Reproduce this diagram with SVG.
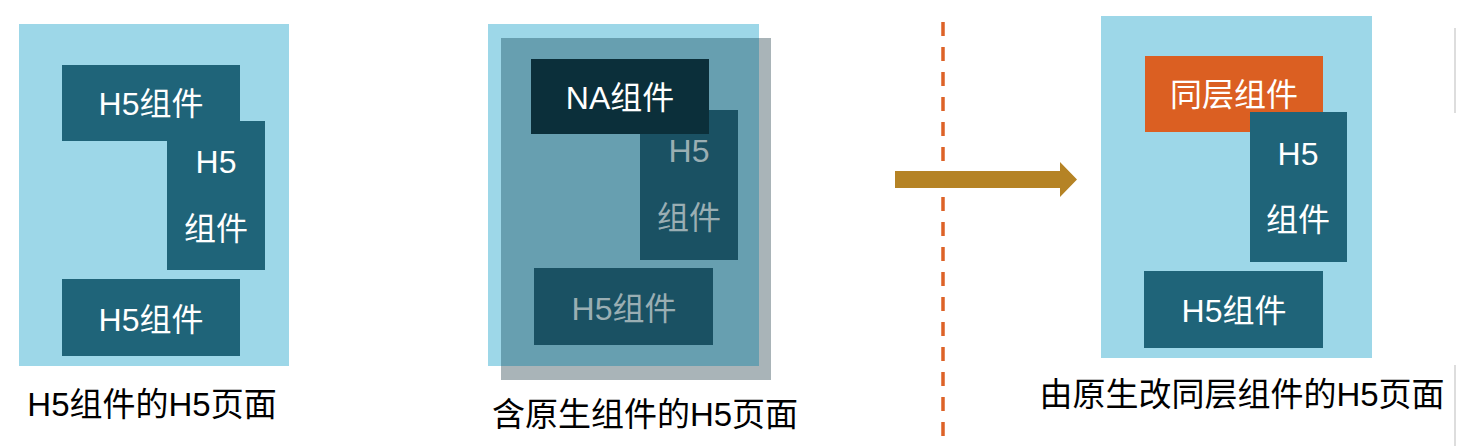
<svg xmlns="http://www.w3.org/2000/svg" width="1472" height="446" viewBox="0 0 1472 446">
<style>
text{font-family:"Liberation Sans","Noto Sans CJK SC",sans-serif;text-anchor:middle}
.page{fill:#9dd7e8}
.h5{fill:#1f6479}
.h5dim{fill:#1a5163}
.t{fill:#ffffff;font-size:32px}
.tdim{fill:#9aaeb3;font-size:32px}
.cap{fill:#000000;font-size:33px}
</style>
<rect width="1472" height="446" fill="#ffffff"/>
<g id="page1">
<rect class="page" x="19" y="24" width="270" height="342"/>
<g id="p1-h5a"><rect class="h5" x="62" y="65" width="178" height="76"/><text class="t" x="151" y="115">H5组件</text></g>
<g id="p1-h5b"><rect class="h5" x="167" y="121" width="98" height="149"/><text class="t" x="216" y="173">H5</text><text class="t" x="216" y="240">组件</text></g>
<g id="p1-h5c"><rect class="h5" x="62" y="279" width="178" height="77"/><text class="t" x="151" y="331">H5组件</text></g>
<text class="cap" x="152" y="416">H5组件的H5页面</text>
</g>
<g id="page2">
<rect class="page" x="488" y="24" width="271" height="342"/>
<rect x="501" y="38" width="270" height="342" fill="#a9b4b8"/>
<rect x="501" y="38" width="258" height="328" fill="#679fb0"/>
<g id="p2-h5b"><rect class="h5dim" x="640" y="110" width="98" height="150"/><text class="tdim" x="689" y="162">H5</text><text class="tdim" x="689" y="229">组件</text></g>
<g id="p2-h5c"><rect class="h5dim" x="534" y="268" width="179" height="77"/><text class="tdim" x="624" y="320">H5组件</text></g>
<g id="p2-na"><rect x="531" y="59" width="178" height="75" fill="#0b2f3a"/><text class="t" x="620" y="109">NA组件</text></g>
<text class="cap" x="645" y="426">含原生组件的H5页面</text>
</g>
<g id="connectors">
<line x1="943" y1="22" x2="943" y2="446" stroke="#dd6227" stroke-width="3.5" stroke-dasharray="14 11"/>
<polygon points="895,171 1060,171 1060,162 1077,179.5 1060,197 1060,188 895,188" fill="#b58325"/>
</g>
<g id="page3">
<rect class="page" x="1101" y="16" width="271" height="342"/>
<g id="p3-same"><rect x="1145" y="56" width="178" height="76" fill="#db5f22"/><text class="t" x="1234" y="106">同层组件</text></g>
<g id="p3-h5b"><rect class="h5" x="1250" y="112" width="97" height="150"/><text class="t" x="1298" y="165">H5</text><text class="t" x="1298" y="231">组件</text></g>
<g id="p3-h5c"><rect class="h5" x="1144" y="271" width="179" height="77"/><text class="t" x="1234" y="322">H5组件</text></g>
<text class="cap" x="1242" y="406">由原生改同层组件的H5页面</text>
</g>
<g id="edge">
<line x1="1455" y1="28" x2="1455" y2="113" stroke="#dddddd" stroke-width="2"/>
<line x1="1455" y1="365" x2="1455" y2="446" stroke="#dddddd" stroke-width="2"/>
</g>
</svg>
